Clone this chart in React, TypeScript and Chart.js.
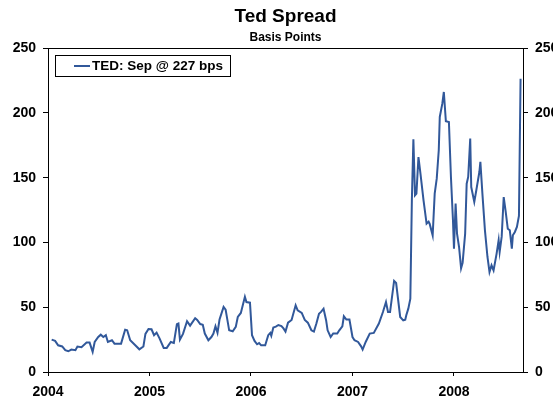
import React, { useEffect, useRef } from "react";
import { Chart, registerables } from "chart.js";

Chart.register(...registerables);

// Decimal-year dates of the observations
const dates = [
  2004.036, 2004.07, 2004.10, 2004.14, 2004.17, 2004.20, 2004.23, 2004.27, 2004.29, 2004.33,
  2004.38, 2004.41, 2004.44, 2004.46, 2004.495, 2004.52, 2004.545, 2004.57, 2004.59, 2004.63,
  2004.655, 2004.69, 2004.72, 2004.76, 2004.78, 2004.81, 2004.86, 2004.90, 2004.94, 2004.96,
  2004.99, 2005.02, 2005.045, 2005.07, 2005.10, 2005.14, 2005.17, 2005.21, 2005.24, 2005.27,
  2005.285, 2005.30, 2005.33, 2005.37, 2005.40, 2005.45, 2005.47, 2005.50, 2005.525, 2005.545,
  2005.58, 2005.61, 2005.63, 2005.65, 2005.67, 2005.69, 2005.73, 2005.75, 2005.785, 2005.82,
  2005.85, 2005.87, 2005.90, 2005.94, 2005.955, 2005.99, 2006.01, 2006.035, 2006.06, 2006.08,
  2006.10, 2006.14, 2006.17, 2006.19, 2006.20, 2006.22, 2006.245, 2006.27, 2006.30, 2006.32,
  2006.34, 2006.365, 2006.40, 2006.44, 2006.46, 2006.50, 2006.53, 2006.56, 2006.595, 2006.62,
  2006.645, 2006.67, 2006.69, 2006.715, 2006.74, 2006.755, 2006.785, 2006.81, 2006.85, 2006.87,
  2006.90, 2006.915, 2006.94, 2006.97, 2007.00, 2007.02, 2007.055, 2007.085, 2007.10, 2007.13,
  2007.17, 2007.21, 2007.26, 2007.30, 2007.33, 2007.35, 2007.37, 2007.41, 2007.43, 2007.47,
  2007.50, 2007.52, 2007.53, 2007.55, 2007.57, 2007.585, 2007.60, 2007.616, 2007.63, 2007.65,
  2007.67, 2007.70, 2007.73, 2007.75, 2007.76, 2007.79, 2007.81, 2007.83, 2007.85, 2007.86,
  2007.885, 2007.90, 2007.92, 2007.95, 2007.97, 2007.99, 2008.00, 2008.016, 2008.03, 2008.05,
  2008.07, 2008.085, 2008.11, 2008.125, 2008.14, 2008.16, 2008.17, 2008.20, 2008.22, 2008.25,
  2008.26, 2008.28, 2008.305, 2008.33, 2008.35, 2008.37, 2008.39, 2008.42, 2008.44, 2008.45,
  2008.47, 2008.49, 2008.51, 2008.53, 2008.55, 2008.57, 2008.58, 2008.60, 2008.62, 2008.64,
  2008.656,
];

// TED spread, basis points
const tedSpread = [
  25, 24, 20.6, 19.7, 16.8, 16, 17.3, 16.8, 19.7, 19.2,
  22.7, 22.7, 15.5, 23.2, 27, 28.8, 27, 28.4, 23.2, 24.5,
  21.9, 21.9, 21.9, 32.7, 32.2, 24.5, 20.6, 17.5, 19.7, 29.4,
  33.2, 33, 28.4, 30.4, 25.8, 18.6, 18.6, 23.2, 22.4, 36.9,
  37.4, 25, 29.4, 39.2, 35.8, 41.5, 40.2, 37, 36.5, 29.7,
  24.5, 27, 29.7, 35.3, 30.2, 40.5, 50.3, 48.2, 32.2, 31.4,
  34.8, 42.5, 45.6, 58, 54, 53.5, 28.4, 24, 21.4, 22.4,
  20.6, 20.6, 28.4, 30.2, 28, 34.4, 35, 36.3, 35.5, 33.7,
  31.2, 38.1, 40.2, 51.5, 47.6, 45.6, 40.2, 38.1, 32.2, 31.2,
  37.6, 45, 46.4, 48.9, 40, 32.2, 27, 29.7, 29.7, 32.2,
  35.3, 43, 40.5, 40.5, 27, 24.5, 23.2, 19.8, 17.3, 23.2,
  29.7, 30.2, 37.4, 46.3, 54, 46.3, 46.3, 70.3, 68.7, 42.5,
  39.9, 40.4, 43.8, 48.9, 56.6, 132.5, 179.6, 136.4, 137.7, 166,
  153, 132.5, 114.5, 116.1, 114.5, 105.5, 137.7, 149.3, 171.2, 196.9,
  207.2, 216.2, 193.6, 193, 150.6, 117.1, 95.2, 130, 106.8, 96.5,
  80, 84.2, 106.8, 145.4, 150.6, 180.2, 142.8, 131.3, 140.3, 154.4,
  162.2, 137.7, 109.4, 88.8, 77.2, 82.4, 78.5, 91.4, 101.7, 92.7,
  104.5, 135.1, 123.5, 110.6, 109.4, 95.2, 105.5, 108.1, 112, 120.5,
  226.5,
];

const yearTicks = [2004, 2005, 2006, 2007, 2008];
const valueTicks = [0, 50, 100, 150, 200, 250];
const seriesLabel = "TED: Sep @ 227 bps";
const chartTitle = "Ted Spread";
const chartSubtitle = "Basis Points";
const xMin = 2004;
const xMax = 2008.68;
const yMin = 0;
const yMax = 250;

const FONT = '"Liberation Sans", Arial, sans-serif';
const LINE_COLOR = "#31589a";

const framePlugin = {
  id: "frameAndLegend",
  afterDraw(chart: any) {
    const { ctx, chartArea } = chart;
    const ds = chart.data.datasets[0];
    ctx.save();
    // top frame line
    ctx.strokeStyle = "#000";
    ctx.lineWidth = 1;
    ctx.beginPath();
    ctx.moveTo(chartArea.left, Math.round(chartArea.top) + 0.5);
    ctx.lineTo(chartArea.right, Math.round(chartArea.top) + 0.5);
    ctx.stroke();
    // legend box
    const bx = Math.round(chartArea.left) + 7;
    const by = Math.round(chartArea.top) + 7;
    const bw = 175;
    const bh = 21;
    ctx.strokeRect(bx + 0.5, by + 0.5, bw, bh);
    const cy = by + bh / 2 + 0.5;
    ctx.strokeStyle = ds.borderColor;
    ctx.lineWidth = 2;
    ctx.beginPath();
    ctx.moveTo(bx + 19, cy);
    ctx.lineTo(bx + 35, cy);
    ctx.stroke();
    ctx.fillStyle = "#000";
    ctx.font = `bold 13.5px ${FONT}`;
    ctx.textBaseline = "middle";
    ctx.textAlign = "left";
    ctx.fillText(ds.label, bx + 37, cy + 0.5);
    ctx.restore();
  },
};

export default function App() {
  const canvasRef = useRef<HTMLCanvasElement | null>(null);

  useEffect(() => {
    if (!canvasRef.current) return;
    const tickFont = { family: FONT, size: 14, weight: "bold" as const };
    const yAxis = (position: "left" | "right", width: number) => ({
      position,
      min: yMin,
      max: yMax,
      afterBuildTicks: (s: any) => {
        s.ticks = valueTicks.map((v) => ({ value: v }));
      },
      afterFit: (s: any) => {
        s.width = width;
      },
      ticks: { font: tickFont, color: "#000", padding: 7, autoSkip: false },
      grid: { drawOnChartArea: false, drawTicks: true, tickLength: 5, color: "#000", lineWidth: 1 },
      border: { display: true, color: "#000", width: 1 },
    });

    const chart = new Chart(canvasRef.current, {
      type: "line",
      data: {
        datasets: [
          {
            label: seriesLabel,
            data: dates.map((d, i) => ({ x: d, y: tedSpread[i] })),
            borderColor: LINE_COLOR,
            backgroundColor: LINE_COLOR,
            borderWidth: 2,
            pointRadius: 0,
            tension: 0,
            fill: false,
          },
        ],
      },
      options: {
        animation: false,
        responsive: false,
        devicePixelRatio: 1,
        layout: { padding: 0 },
        plugins: {
          legend: { display: false },
          tooltip: { enabled: false },
          title: {
            display: true,
            fullSize: false,
            text: chartTitle,
            color: "#000",
            font: { family: FONT, size: 19, weight: "bold" },
            padding: { top: 5, bottom: 0 },
          },
          subtitle: {
            display: true,
            fullSize: false,
            text: chartSubtitle,
            color: "#000",
            font: { family: FONT, size: 12, weight: "bold" },
            padding: { top: 3, bottom: 3 },
          },
        },
        scales: {
          x: {
            type: "linear",
            min: xMin,
            max: xMax,
            afterBuildTicks: (s: any) => {
              s.ticks = yearTicks.map((v) => ({ value: v }));
            },
            afterFit: (s: any) => {
              s.height = 29;
            },
            ticks: {
              font: tickFont,
              color: "#000",
              padding: 8,
              maxRotation: 0,
              autoSkip: false,
              callback: (v: any) => String(v),
            },
            grid: { drawOnChartArea: false, drawTicks: true, tickLength: 4, color: "#000", lineWidth: 1 },
            border: { display: true, color: "#000", width: 1 },
          },
          y: yAxis("left", 48),
          y2: yAxis("right", 30),
        },
      },
      plugins: [framePlugin],
    });
    return () => chart.destroy();
  }, []);

  return (
    <div style={{ position: "absolute", left: 0, top: 0, width: 553, height: 401, background: "#fff" }}>
      <canvas ref={canvasRef} width={553} height={401} />
    </div>
  );
}
